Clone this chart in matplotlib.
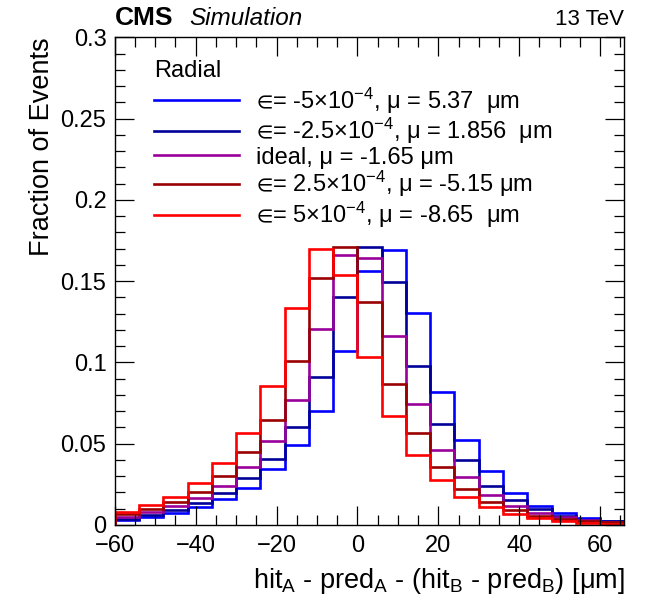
import numpy as np
import matplotlib
matplotlib.use('Agg')
import matplotlib.pyplot as plt
from matplotlib.ticker import MultipleLocator, FuncFormatter

plt.rcParams['font.family'] = ['Liberation Sans', 'DejaVu Sans']
plt.rcParams['mathtext.fontset'] = 'custom'
plt.rcParams['mathtext.rm'] = 'Liberation Sans'
plt.rcParams['mathtext.it'] = 'Liberation Sans:italic'
plt.rcParams['mathtext.bf'] = 'Liberation Sans:bold'
plt.rcParams['mathtext.fallback'] = 'stixsans'

# bin edges: -60 .. 66 in steps of 6 um
edges = np.arange(-60, 67, 6)

# fraction of events per bin
blue = [0.0031, 0.0051, 0.0072, 0.0109, 0.0158, 0.0230, 0.0343, 0.0492, 0.0699, 0.1068, 0.1561,
        0.1695, 0.1305, 0.0819, 0.0524, 0.0331, 0.0195, 0.0119, 0.0072, 0.0041, 0.0027]
navy = [0.0039, 0.0061, 0.0092, 0.0137, 0.0195, 0.0286, 0.0409, 0.0605, 0.0908, 0.1404, 0.1713,
        0.1498, 0.0977, 0.0621, 0.0399, 0.0242, 0.0152, 0.0097, 0.0057, 0.0032, 0.0022]
ideal = [0.0051, 0.0082, 0.0117, 0.0168, 0.0240, 0.0358, 0.0518, 0.0767, 0.1205, 0.1660, 0.1642,
         0.1165, 0.0747, 0.0463, 0.0298, 0.0183, 0.0117, 0.0076, 0.0047, 0.0028, 0.0020]
darkred = [0.0066, 0.0097, 0.0144, 0.0203, 0.0304, 0.0452, 0.0644, 0.1012, 0.1522, 0.1713, 0.1372,
           0.0868, 0.0566, 0.0358, 0.0224, 0.0144, 0.0092, 0.0057, 0.0035, 0.0022, 0.0016]
red = [0.0082, 0.0121, 0.0174, 0.0257, 0.0380, 0.0566, 0.0853, 0.1333, 0.1698, 0.1538, 0.1033,
       0.0668, 0.0432, 0.0277, 0.0172, 0.0113, 0.0068, 0.0043, 0.0025, 0.0014, 0.0009]

labels = ['$∈$= -5×10$^{-4}$, μ = 5.37  μm',
          '$∈$= -2.5×10$^{-4}$, μ = 1.856  μm',
          'ideal, μ = -1.65 μm',
          '$∈$= 2.5×10$^{-4}$, μ = -5.15 μm',
          '$∈$= 5×10$^{-4}$, μ = -8.65  μm']
colors = ['#0000ff', '#000099', '#990099', '#990000', '#ff0000']
series = [blue, navy, ideal, darkred, red]

fig = plt.figure(figsize=(6.46, 6.03), dpi=100)
ax = fig.add_axes([0.1776, 0.1294, 0.7889, 0.8085])

handles = []
for vals, c, lab in zip(series, colors, labels):
    ax.stairs(vals, edges, color=c, lw=1.9, label=lab)
    handles.append(plt.Line2D([], [], color=c, lw=1.9))

ax.set_xlim(-60, 66)
ax.set_ylim(0, 0.3)
ax.xaxis.set_major_locator(MultipleLocator(20))
ax.xaxis.set_minor_locator(MultipleLocator(5))
ax.yaxis.set_major_locator(MultipleLocator(0.05))
ax.yaxis.set_minor_locator(MultipleLocator(0.01))
ax.yaxis.set_major_formatter(FuncFormatter(lambda v, p: f'{v:g}'))
ax.tick_params(which='both', direction='in', top=True, right=True, labelsize=17, width=0.9)
ax.tick_params(which='major', length=14)
ax.tick_params(axis='y', which='major', pad=6)
ax.tick_params(axis='x', which='major', pad=7)
ax.tick_params(which='minor', length=7)
for s in ax.spines.values():
    s.set_linewidth(1.0)

ax.set_ylabel('Fraction of Events', fontsize=19.5, loc='top')
ax.yaxis.set_label_coords(-0.117, 1.0)
ax.set_xlabel('hit$_{\\rm A}$ - pred$_{\\rm A}$ - (hit$_{\\rm B}$ - pred$_{\\rm B}$) [μm]',
              fontsize=19.5, loc='right')
ax.xaxis.set_label_coords(1.0, -0.085)

leg = ax.legend(handles, labels, title='Radial', loc='upper left', bbox_to_anchor=(0.04, 0.993),
                frameon=False, fontsize=17, title_fontsize=17, handlelength=3.6,
                handletextpad=0.7, labelspacing=0.02, alignment='left', borderpad=0.3)
leg._legend_box.sep = 2.6

ax.text(0.0, 1.025, 'CMS', transform=ax.transAxes, fontsize=19, fontweight='bold',
        ha='left', va='baseline')
ax.text(0.147, 1.025, 'Simulation', transform=ax.transAxes, fontsize=17.5, style='italic',
        ha='left', va='baseline')
ax.text(1.0, 1.025, '13 TeV', transform=ax.transAxes, fontsize=16, ha='right', va='baseline')

fig.savefig('out.png', dpi=100)
